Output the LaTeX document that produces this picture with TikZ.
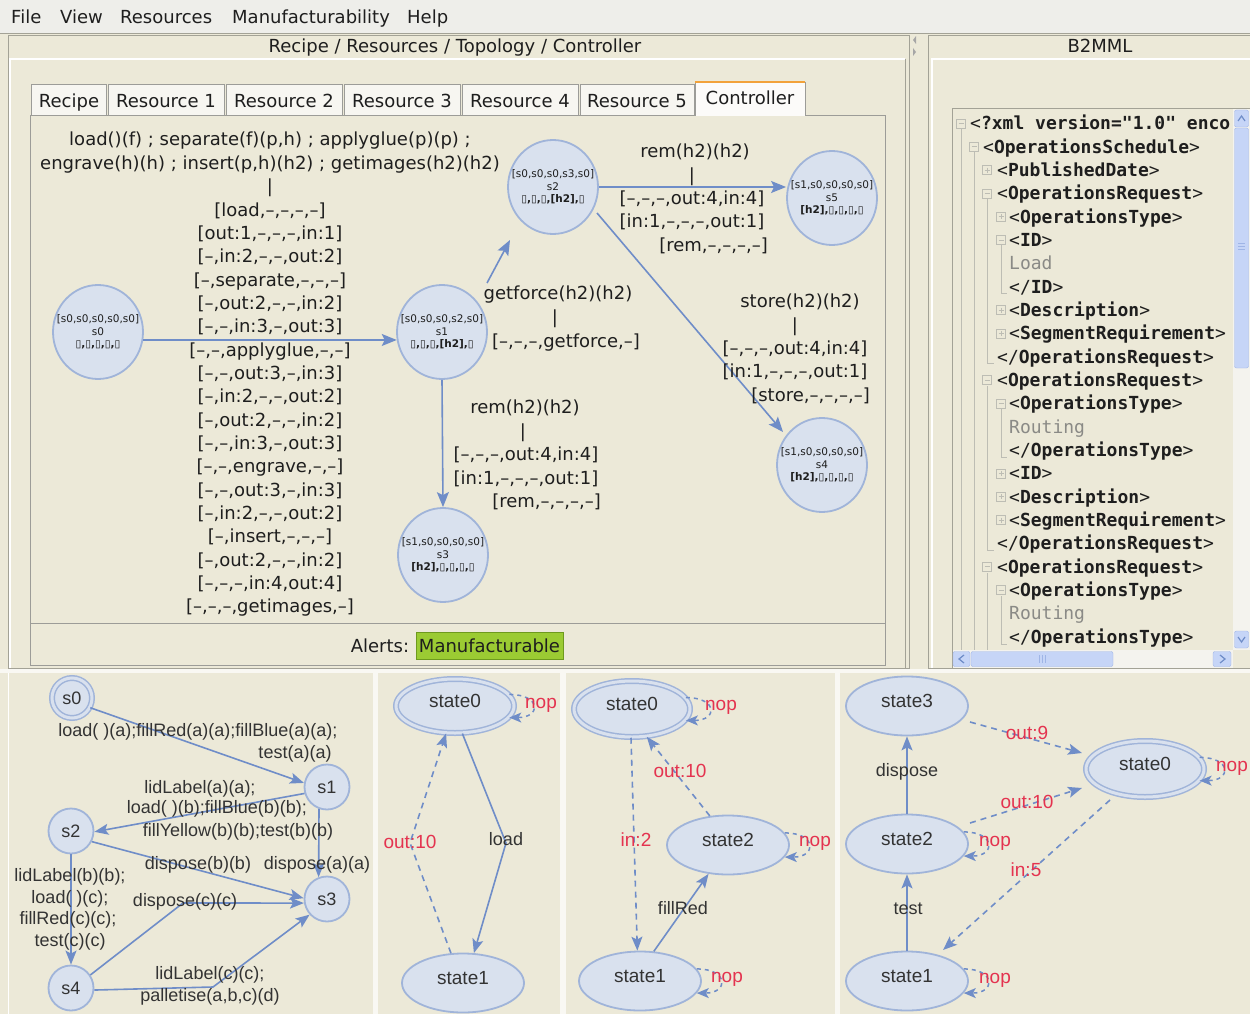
\documentclass[tikz,border=0pt]{standalone}
\usepackage{fontspec}
\setmainfont{DejaVu Sans}
\newfontfamily\graphfont{Liberation Sans}
\newfontfamily\xmlfont{DejaVu Sans Mono}
\usetikzlibrary{shapes.geometric,arrows.meta,calc}

\definecolor{winbg}{HTML}{ECE9D8}
\definecolor{menubg}{HTML}{EEEEEA}
\definecolor{frameline}{HTML}{A3A296}
\definecolor{tabfill}{HTML}{F7F6F1}
\definecolor{tabline}{HTML}{9C9C98}
\definecolor{tabtop}{HTML}{F2A23A}
\definecolor{nodefill}{HTML}{D9E1EE}
\definecolor{nodeline}{HTML}{A0B4D9}
\definecolor{edgeblue}{HTML}{6F8DC8}
\definecolor{labred}{HTML}{E4334F}
\definecolor{okgreen}{HTML}{9BCB33}
\definecolor{okline}{HTML}{6E9A1E}
\definecolor{treeline}{HTML}{BDBDB4}
\definecolor{treetext}{HTML}{8A8A86}
\definecolor{thumbfill}{HTML}{C6D5F7}
\definecolor{thumbline}{HTML}{9FB5E6}
\definecolor{trackfill}{HTML}{F4F3EE}
\definecolor{ink}{HTML}{1E1E1E}
\definecolor{graphink}{HTML}{333333}

% XML tree helpers
\newcommand\xtag[1]{<\textbf{#1}>}
\newcommand\xend[1]{</\textbf{#1}>}
\newcommand\treeminus[2]{%
  \draw[treeline, fill=winbg] (#1-4.5,#2-4.5) rectangle (#1+4.5,#2+4.5);
  \draw[treeline] (#1-2.5,#2) -- (#1+2.5,#2);}
\newcommand\treeplus[2]{%
  \treeminus{#1}{#2}
  \draw[treeline] (#1,#2-2.5) -- (#1,#2+2.5);}
% self loop on the right side of a state
\newcommand\noploop[1]{%
  \draw[loopst] (#1.12) .. controls +(32,0) and +(32,0) .. (#1.-12);}
% line break that is safe before a line starting with a bracket
\newcommand\nl{\\\relax}

\begin{document}
\begin{tikzpicture}[x=1pt,y=-1pt,
  ui/.style={font=\fontsize{18}{22}\selectfont, text=ink, inner sep=0pt, text height=0.76em, text depth=0.24em, yshift=-4pt},
  uiblock/.style={font=\fontsize{18}{23.35}\selectfont, text=ink, inner sep=0pt, align=center, yshift=-3pt},
  xml/.style={font=\xmlfont\fontsize{18}{22}\selectfont, text=ink, inner sep=0pt, anchor=base west},
  xgray/.style={xml, text=treetext},
  mst/.style={ellipse, draw=nodeline, line width=1.8pt, fill=nodefill, minimum width=90pt, minimum height=94pt, inner xsep=-11pt, inner ysep=0pt, align=center, font=\fontsize{10.5}{12.5}\selectfont, text=ink},
  med/.style={draw=edgeblue, line width=1.6pt, -{Stealth[length=15pt,width=12pt,inset=3pt]}},
  glab/.style={font=\graphfont\fontsize{18}{22}\selectfont, text=graphink, inner sep=0pt, text height=0.72em, text depth=0.22em, yshift=-3.5pt},
  rlab/.style={font=\graphfont\fontsize{19}{22}\selectfont, text=labred, inner sep=0pt, text height=0.72em, text depth=0.22em, yshift=-3.5pt},
  bst/.style={circle, draw=nodeline, line width=1.8pt, fill=nodefill, minimum size=45pt, inner sep=0pt, font=\graphfont\fontsize{18}{22}\selectfont, text=graphink},
  est/.style={ellipse, draw=nodeline, line width=1.8pt, fill=nodefill, minimum width=122pt, minimum height=59pt, inner sep=0pt, font=\graphfont\fontsize{19}{22}\selectfont, text=graphink, text height=0.72em, text depth=0.41em},
  dbl/.style={double=nodefill, double distance=3pt, line width=1.5pt},
  ged/.style={draw=edgeblue, line width=1.6pt, -{Stealth[length=14pt,width=11pt,inset=3pt]}},
  gdash/.style={ged, dash pattern=on 6pt off 5pt},
  loopst/.style={draw=edgeblue, line width=1.5pt, dash pattern=on 4pt off 4pt, -{Stealth[length=12pt,width=10pt,inset=3pt]}},
  tabst/.style={draw=tabline, fill=tabfill, line width=0.8pt},
]
\useasboundingbox (0,0) rectangle (1250,1014);

% ---------- window background and menu bar ----------
\fill[winbg] (0,0) rectangle (1250,1014);
\fill[menubg] (0,0) rectangle (1250,33);
\draw[frameline] (0,33.5) -- (1250,33.5);
\node[ui, anchor=west] (mFile) at (11,17) {File};
\node[ui, anchor=west] (mView) at (60,17) {View};
\node[ui, anchor=west] (mRes) at (120,17) {Resources};
\node[ui, anchor=west] (mManu) at (232,17) {Manufacturability};
\node[ui, anchor=west] (mHelp) at (407,17) {Help};

% ---------- left panel frame ----------
\draw[frameline] (8,35.5) rectangle (909,668);
\node[ui] (leftTitle) at (455,46) {Recipe / Resources / Topology / Controller};
\draw[white, line width=1.2pt] (10,668) -- (10,59) -- (905,59);
\draw[frameline] (905,59) -- (905,668);
% splitter arrows
\fill[gray!70] (916,36) -- (913,40) -- (916,44) -- cycle;
\fill[gray!70] (913,48) -- (916,52) -- (913,56) -- cycle;

% ---------- tabs ----------
\draw[tabst] (31,115) |- (106,84) -- (106,115);
\draw[tabst] (108,115) |- (224,84) -- (224,115);
\draw[tabst] (226,115) |- (342,84) -- (342,115);
\draw[tabst] (344,115) |- (460,84) -- (460,115);
\draw[tabst] (462,115) |- (578,84) -- (578,115);
\draw[tabst] (580,115) |- (694,84) -- (694,115);
\node[ui] (tRecipe) at (69,101) {Recipe};
\node[ui] (tRes1) at (166,101) {Resource 1};
\node[ui] (tRes2) at (284,101) {Resource 2};
\node[ui] (tRes3) at (402,101) {Resource 3};
\node[ui] (tRes4) at (520,101) {Resource 4};
\node[ui] (tRes5) at (637,101) {Resource 5};
% content frame
\draw[tabline, line width=0.8pt] (30,115) rectangle (885,665);
\draw[tabline, line width=0.8pt] (30,623) -- (885,623);
% selected tab
\fill[white!60!tabfill] (695,82) rectangle (805,116);
\draw[tabline, line width=0.8pt] (695,116) -- (695,82) (805,82) -- (805,116);
\draw[tabtop, line width=2pt] (695,82) -- (805,82);
\node[ui] (tCtrl) at (750,98) {Controller};

% ---------- controller graph ----------
\node[mst] (s0) at (98,332) {[s0,s0,s0,s0,s0]\nl s0\nl \textbf{▯,▯,▯,▯,▯}};
\node[mst] (s1) at (442,332) {[s0,s0,s0,s2,s0]\nl s1\nl \textbf{▯,▯,▯,[h2],▯}};
\node[mst] (s2) at (553,187) {[s0,s0,s0,s3,s0]\nl s2\nl \textbf{▯,▯,▯,[h2],▯}};
\node[mst] (s5) at (832,198) {[s1,s0,s0,s0,s0]\nl s5\nl \textbf{[h2],▯,▯,▯,▯}};
\node[mst] (s4) at (822,465) {[s1,s0,s0,s0,s0]\nl s4\nl \textbf{[h2],▯,▯,▯,▯}};
\node[mst] (s3) at (443,555) {[s1,s0,s0,s0,s0]\nl s3\nl \textbf{[h2],▯,▯,▯,▯}};

\draw[med] (s0.-10) -- (s1.190);
\draw[med] ($(s1.center)+(45,-49)$) -- ($(s2.center)+(-43,53)$);
\draw[med] (s1.south) -- (s3.north);
\draw[med] (s2.east) -- (s2.east -| s5.west);
\draw[med] ($(s2.center)+(44,26)$) -- ($(s4.center)+(-39,-33)$);

\node[uiblock] (lab01) at (270,371.5) {%
load()(f) ; separate(f)(p,h) ; applyglue(p)(p) ;\nl
engrave(h)(h) ; insert(p,h)(h2) ; getimages(h2)(h2)\nl
|\nl
[load,–,–,–,–]\nl
[out:1,–,–,–,in:1]\nl
[–,in:2,–,–,out:2]\nl
[–,separate,–,–,–]\nl
[–,out:2,–,–,in:2]\nl
[–,–,in:3,–,out:3]\nl
[–,–,applyglue,–,–]\nl
[–,–,out:3,–,in:3]\nl
[–,in:2,–,–,out:2]\nl
[–,out:2,–,–,in:2]\nl
[–,–,in:3,–,out:3]\nl
[–,–,engrave,–,–]\nl
[–,–,out:3,–,in:3]\nl
[–,in:2,–,–,out:2]\nl
[–,insert,–,–,–]\nl
[–,out:2,–,–,in:2]\nl
[–,–,–,in:4,out:4]\nl
[–,–,–,getimages,–]};

% s1 -> s2
\node[ui] (lab12a) at (558,293) {getforce(h2)(h2)};
\node[ui] (lab12b) at (555,317) {|};
\node[ui] (lab12c) at (566,341) {[–,–,–,getforce,–]};
% s2 -> s5
\node[ui] (lab25a) at (695,151) {rem(h2)(h2)};
\node[ui] (lab25b) at (692,175) {|};
\node[ui] (lab25c) at (692,198) {[–,–,–,out:4,in:4]};
\node[ui] (lab25d) at (692,221) {[in:1,–,–,–,out:1]};
\node[ui, anchor=east] (lab25e) at (768,245) {[rem,–,–,–,–]};
% s2 -> s4
\node[ui] (lab24a) at (800,301) {store(h2)(h2)};
\node[ui] (lab24b) at (795,325) {|};
\node[ui] (lab24c) at (795,348) {[–,–,–,out:4,in:4]};
\node[ui] (lab24d) at (795,371) {[in:1,–,–,–,out:1]};
\node[ui, anchor=east] (lab24e) at (870,395) {[store,–,–,–,–]};
% s1 -> s3
\node[ui] (lab13a) at (525,407) {rem(h2)(h2)};
\node[ui] (lab13b) at (523,431) {|};
\node[ui] (lab13c) at (526,454) {[–,–,–,out:4,in:4]};
\node[ui] (lab13d) at (526,478) {[in:1,–,–,–,out:1]};
\node[ui, anchor=east] (lab13e) at (601,501) {[rem,–,–,–,–]};

% alerts bar
\node[ui] (alerts) at (380,646) {Alerts:};
\node[ui, fill=okgreen, draw=okline, line width=0.8pt, minimum width=147pt, minimum height=27pt, yshift=4pt] (manu) at (489.5,645.5) {};
\node[ui] (manuText) at (489.5,646) {Manufacturable};

% ---------- right panel (B2MML) ----------
\draw[frameline] (928,35.5) rectangle (1250,668);
\draw[white, line width=1.2pt] (932,668) -- (932,59) -- (1250,59);
\node[ui] (rightTitle) at (1100,46) {B2MML};
\draw[frameline] (952,668) -- (952,108) -- (1250,108);

\begin{scope}
\clip (953,109) rectangle (1233,650);
% tree guide lines
\draw[treeline, line width=0.8pt] (961,128) -- (961,650);
\draw[treeline, line width=0.8pt] (974,152) -- (974,650);
\draw[treeline, line width=0.8pt] (987,198) -- (987,363) -- (994,363);
\draw[treeline, line width=0.8pt] (1001,245) -- (1001,293) -- (1007,293);
\draw[treeline, line width=0.8pt] (987,386) -- (987,550) -- (994,550);
\draw[treeline, line width=0.8pt] (1001,409) -- (1001,457) -- (1007,457);
\draw[treeline, line width=0.8pt] (987,573) -- (987,650);
\draw[treeline, line width=0.8pt] (1001,596) -- (1001,644) -- (1007,644);
% expander boxes
\treeminus{961}{123.3}
\treeminus{974}{146.6}
\treeplus{987}{170}
\treeminus{987}{193.3}
\treeplus{1001}{216.6}
\treeminus{1001}{240}
\treeplus{1001}{310}
\treeplus{1001}{333.3}
\treeminus{987}{380}
\treeminus{1001}{403.3}
\treeplus{1001}{473.3}
\treeplus{1001}{496.6}
\treeplus{1001}{520}
\treeminus{987}{566.6}
\treeminus{1001}{590}
% tree text (baselines)
\node[xml] (x00) at (970,129.9) {<\textbf{?xml version="1.0" enco}};
\node[xml] (x01) at (983,153.2) {\xtag{OperationsSchedule}};
\node[xml] (x02) at (997,176.6) {\xtag{PublishedDate}};
\node[xml] (x03) at (997,199.9) {\xtag{OperationsRequest}};
\node[xml] (x04) at (1009,223.2) {\xtag{OperationsType}};
\node[xml] (x05) at (1009,246.6) {\xtag{ID}};
\node[xgray] (x06) at (1009,269.9) {Load};
\node[xml] (x07) at (1009,293.2) {\xend{ID}};
\node[xml] (x08) at (1009,316.6) {\xtag{Description}};
\node[xml] (x09) at (1009,339.9) {\xtag{SegmentRequirement}};
\node[xml] (x10) at (997,363.2) {\xend{OperationsRequest}};
\node[xml] (x11) at (997,386.6) {\xtag{OperationsRequest}};
\node[xml] (x12) at (1009,409.9) {\xtag{OperationsType}};
\node[xgray] (x13) at (1009,433.2) {Routing};
\node[xml] (x14) at (1009,456.6) {\xend{OperationsType}};
\node[xml] (x15) at (1009,479.9) {\xtag{ID}};
\node[xml] (x16) at (1009,503.2) {\xtag{Description}};
\node[xml] (x17) at (1009,526.6) {\xtag{SegmentRequirement}};
\node[xml] (x18) at (997,549.9) {\xend{OperationsRequest}};
\node[xml] (x19) at (997,573.2) {\xtag{OperationsRequest}};
\node[xml] (x20) at (1009,596.6) {\xtag{OperationsType}};
\node[xgray] (x21) at (1009,619.9) {Routing};
\node[xml] (x22) at (1009,643.2) {\xend{OperationsType}};
\end{scope}

% vertical scrollbar
\fill[trackfill] (1233,109) rectangle (1250,650);
\draw[thumbline, fill=thumbfill, rounded corners=2pt] (1234.5,110) rectangle (1248.5,127);
\draw[edgeblue, line width=1.2pt] (1238,121) -- (1241.5,116) -- (1245,121);
\draw[thumbline, fill=thumbfill, rounded corners=2pt] (1234.5,128) rectangle (1248.5,368);
\foreach \gy in {243,246,249} \draw[thumbline] (1238,\gy) -- (1245,\gy);
\draw[thumbline, fill=thumbfill, rounded corners=2pt] (1234.5,631) rectangle (1248.5,648);
\draw[edgeblue, line width=1.2pt] (1238,637) -- (1241.5,642) -- (1245,637);
% horizontal scrollbar
\fill[trackfill] (953,650) rectangle (1233,668);
\draw[thumbline, fill=thumbfill, rounded corners=2pt] (953,651.5) rectangle (970,666.5);
\draw[edgeblue, line width=1.2pt] (964,655) -- (959,659) -- (964,663);
\draw[thumbline, fill=thumbfill, rounded corners=2pt] (971,651.5) rectangle (1113,666.5);
\foreach \gx in {1039,1042,1045} \draw[thumbline] (\gx,655) -- (\gx,663);
\draw[thumbline, fill=thumbfill, rounded corners=2pt] (1213,651.5) rectangle (1231,666.5);
\draw[edgeblue, line width=1.2pt] (1220,655) -- (1225,659) -- (1220,663);

% ---------- bottom panels ----------
\fill[white!70!winbg] (0,668.5) rectangle (1250,673);
\fill[white!70!winbg] (373,673) rectangle (378,1014);
\fill[white!70!winbg] (560,673) rectangle (566,1014);
\fill[white!70!winbg] (835,673) rectangle (840,1014);
\draw[white, line width=1pt] (8,1014) -- (8,673);

% panel 1: five-state supervisor
\node[bst, dbl, minimum size=40pt] (p1s0) at (72,698) {s0};
\node[bst] (p1s1) at (327,787) {s1};
\node[bst] (p1s2) at (71,831) {s2};
\node[bst] (p1s3) at (327,899) {s3};
\node[bst] (p1s4) at (71,988) {s4};
\coordinate (p1b1) at (183,903);
\coordinate (p1b2) at (213,987);
\draw[ged] (p1s0.-28) -- (p1s1.170);
\draw[ged] (p1s1.196) -- (p1s2.-2);
\draw[ged] (p1s1.250) -- (p1s3.111);
\draw[ged] (p1s2.-27) -- (p1s3.178);
\draw[ged] (p1s2.south) -- (p1s4.north);
\draw[ged] (p1s4.34) -- (p1b1) -- (p1s3.190);
\draw[ged] (p1s4.-5) -- (p1b2) -- (p1s3.222);
\node[glab] (g01a) at (198,730) {load( )(a);fillRed(a)(a);fillBlue(a)(a);};
\node[glab] (g01b) at (295,752) {test(a)(a)};
\node[glab] (g12a) at (200,787) {lidLabel(a)(a);};
\node[glab] (g12b) at (217,807) {load( )(b);fillBlue(b)(b);};
\node[glab] (g12c) at (238,830) {fillYellow(b)(b);test(b)(b)};
\node[glab] (g23) at (198,863) {dispose(b)(b)};
\node[glab] (g13) at (317,863) {dispose(a)(a)};
\node[glab] (g24a) at (70,875) {lidLabel(b)(b);};
\node[glab] (g24b) at (70,897) {load( )(c);};
\node[glab] (g24c) at (68,918) {fillRed(c)(c);};
\node[glab] (g24d) at (70,940) {test(c)(c)};
\node[glab] (g43a) at (185,900) {dispose(c)(c)};
\node[glab] (g43b) at (210,973) {lidLabel(c)(c);};
\node[glab] (g43c) at (210,995) {palletise(a,b,c)(d)};

% panel 2
\node[est, dbl, minimum width=118pt, minimum height=54pt] (p2s0) at (455,706) {state0};
\node[est] (p2s1) at (463,983) {state1};
\coordinate (p2b1) at (506,843);
\coordinate (p2b2) at (410,843);
\draw[ged] (p2s0.-75) -- (p2b1) -- (p2s1.70);
\draw[gdash] (p2s1.112) -- (p2b2) -- (p2s0.252);
\noploop{p2s0}
\node[rlab] (p2nop) at (541,702) {nop};
\node[glab] (p2load) at (506,839) {load};
\node[rlab] (p2out) at (410,842) {out:10};

% panel 3
\node[est, dbl, minimum width=116pt, minimum height=56pt] (p3s0) at (632,709) {state0};
\node[est] (p3s2) at (728,845) {state2};
\node[est] (p3s1) at (640,981) {state1};
\draw[gdash] (p3s0.268) -- (p3s1.95);
\draw[gdash] (p3s2.122) -- (p3s0.-62);
\draw[ged] (p3s1.65) -- (p3s2.236);
\noploop{p3s0}
\noploop{p3s2}
\noploop{p3s1}
\node[rlab] (p3nop0) at (721,704) {nop};
\node[rlab] (p3nop2) at (815,840) {nop};
\node[rlab] (p3nop1) at (727,976) {nop};
\node[rlab] (p3in) at (636,840) {in:2};
\node[rlab] (p3out) at (680,771) {out:10};
\node[glab] (p3fill) at (683,908) {fillRed};

% panel 4
\node[est] (p4s3) at (907,706) {state3};
\node[est, dbl, minimum width=118pt, minimum height=56pt] (p4s0) at (1145,769) {state0};
\node[est] (p4s2) at (907,844) {state2};
\node[est] (p4s1) at (907,981) {state1};
\draw[ged] (p4s2.north) -- (p4s3.south);
\draw[ged] (p4s1.north) -- (p4s2.south);
\draw[gdash] ($(p4s3.center)+(63,16)$) -- ($(p4s0.center)+(-63,-16)$);
\draw[gdash] ($(p4s2.center)+(63,-21)$) -- ($(p4s0.center)+(-63,19)$);
\draw[gdash] ($(p4s0.center)+(-35,31)$) -- ($(p4s1.center)+(36,-31)$);
\noploop{p4s0}
\noploop{p4s2}
\noploop{p4s1}
\node[glab] (p4disp) at (907,770) {dispose};
\node[glab] (p4test) at (908,908) {test};
\node[rlab] (p4out9) at (1027,733) {out:9};
\node[rlab] (p4out10) at (1027,802) {out:10};
\node[rlab] (p4in5) at (1026,870) {in:5};
\node[rlab] (p4nop0) at (1232,765) {nop};
\node[rlab] (p4nop2) at (995,840) {nop};
\node[rlab] (p4nop1) at (995,977) {nop};
\end{tikzpicture}
\end{document}
